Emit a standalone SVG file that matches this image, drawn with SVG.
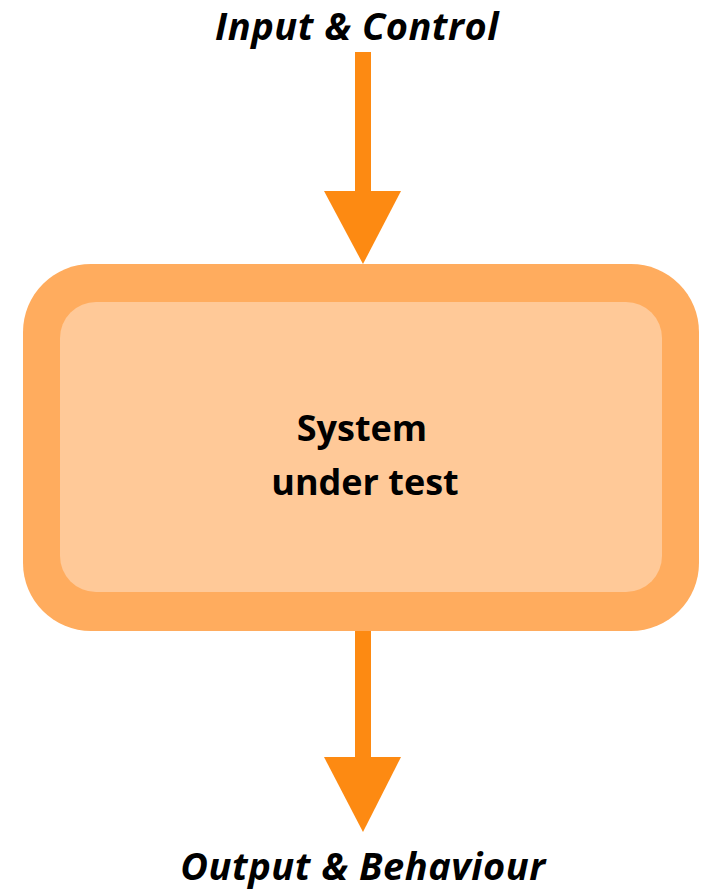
<svg xmlns="http://www.w3.org/2000/svg" width="704" height="890" viewBox="0 0 704 890">
<style>
.arrow{fill:#FD8A12}
.lbl{font-family:"Open Sans","Noto Sans",sans-serif;font-weight:bold;font-style:italic;font-size:38px;letter-spacing:0.5px;fill:#000;text-anchor:middle}
.ctr{font-family:"Open Sans","Noto Sans",sans-serif;font-weight:bold;font-size:36px;fill:#000;text-anchor:middle}
</style>
<rect width="704" height="890" fill="#fff"/>
<g id="connectors">
<g id="arrow-in"><rect class="arrow" x="355" y="52" width="16" height="140"/><polygon class="arrow" points="324,191 401,191 363,264"/></g>
<g id="arrow-out"><rect class="arrow" x="355" y="628" width="16" height="131"/><polygon class="arrow" points="324,757 401,757 363,832"/></g>
</g>
<g id="system">
<rect x="23" y="264" width="676" height="367" rx="68" fill="#FFAC5E"/>
<rect x="60" y="302" width="602" height="290" rx="36" fill="#FFC998"/>
<text class="ctr" x="362" y="441">System</text>
<text class="ctr" x="365" y="495">under test</text>
</g>
<g id="input"><text class="lbl" x="357" y="40">Input &amp; Control</text></g>
<g id="output"><text class="lbl" x="363" y="880">Output &amp; Behaviour</text></g>
</svg>
